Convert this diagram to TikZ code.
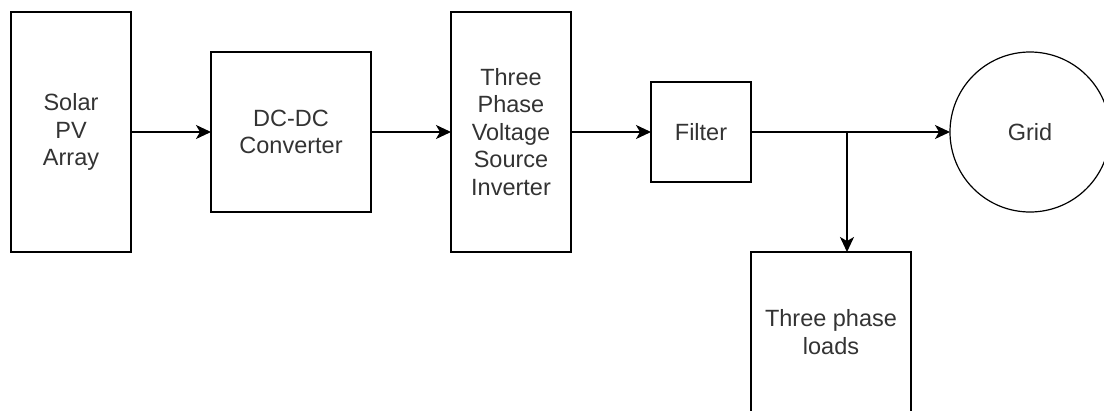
\documentclass[tikz,border=0pt]{standalone}
\usepackage{fontspec}
\setmainfont{Liberation Sans}
\usetikzlibrary{arrows.meta}
\definecolor{txt}{HTML}{333333}
\tikzset{
  blk/.style={draw=black, line width=1.6pt, fill=white, rectangle, inner sep=0pt, outer sep=0pt,
    align=center, text=txt, font=\fontsize{23.5}{27.5}\selectfont},
  circ/.style={draw=black, line width=1.2pt, circle, inner sep=0pt, outer sep=0pt,
    minimum size=160pt, text=txt, font=\fontsize{23.5}{27.5}\selectfont},
  arr/.style={draw=black, line width=1.6pt, -{Stealth[length=15pt,width=14pt,inset=4pt]}},
  ln/.style={draw=black, line width=1.6pt}
}
\begin{document}
\begin{tikzpicture}[x=1pt,y=-1pt]
\useasboundingbox (0,0) rectangle (1104,410);
\clip (0,0) rectangle (1104,410);
\node[blk, minimum width=120pt, minimum height=240pt] (solar) at (71,132) {Solar\\PV\\Array};
\node[blk, minimum width=160pt, minimum height=160pt] (dcdc) at (291,132) {DC-DC\\Converter};
\node[blk, minimum width=120pt, minimum height=240pt] (vsi) at (511,132) {Three\\Phase\\Voltage\\Source\\Inverter};
\node[blk, minimum width=100pt, minimum height=100pt] (filter) at (701,132) {Filter};
\node[circ] (grid) at (1030,132) {Grid};
\node[blk, minimum width=160pt, minimum height=160pt] (loads) at (831,332) {Three phase\\loads};
\coordinate (br) at (847,132);
\draw[arr] (solar) -- (dcdc);
\draw[arr] (dcdc) -- (vsi);
\draw[arr] (vsi) -- (filter);
\draw[arr] (filter) -- (grid);
\draw[arr] (br) -- (br |- loads.north);
\end{tikzpicture}
\end{document}
